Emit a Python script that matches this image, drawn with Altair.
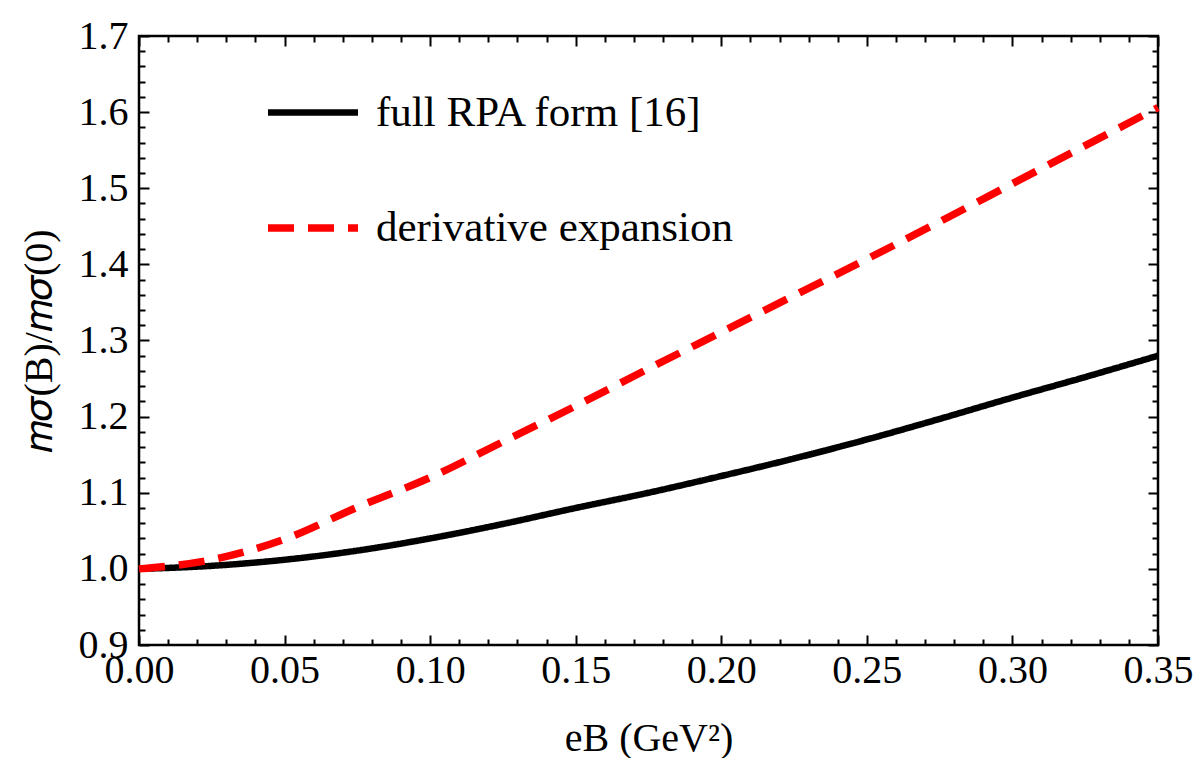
import altair as alt
import pandas as pd

# ---- data ----
eb = [0.0, 0.025, 0.05, 0.075, 0.10, 0.125, 0.15, 0.175, 0.20, 0.225, 0.25, 0.275, 0.30, 0.325, 0.35]
full_rpa = [1.000, 1.004, 1.012, 1.024, 1.040, 1.059, 1.080, 1.100, 1.122, 1.145, 1.170, 1.197, 1.225, 1.252, 1.280]
deriv_exp = [1.000, 1.012, 1.039, 1.081, 1.120, 1.167, 1.214, 1.263, 1.311, 1.359, 1.407, 1.456, 1.506, 1.556, 1.606]
series_names = ["full RPA form [16]", "derivative expansion"]

x_major = [0.0, 0.05, 0.10, 0.15, 0.20, 0.25, 0.30, 0.35]
x_minor = [0.01, 0.02, 0.03, 0.04, 0.06, 0.07, 0.08, 0.09, 0.11, 0.12, 0.13, 0.14,
           0.16, 0.17, 0.18, 0.19, 0.21, 0.22, 0.23, 0.24, 0.26, 0.27, 0.28, 0.29,
           0.31, 0.32, 0.33, 0.34]
y_major = [0.9, 1.0, 1.1, 1.2, 1.3, 1.4, 1.5, 1.6, 1.7]
y_minor = [0.92, 0.94, 0.96, 0.98, 1.02, 1.04, 1.06, 1.08, 1.12, 1.14, 1.16, 1.18,
           1.22, 1.24, 1.26, 1.28, 1.32, 1.34, 1.36, 1.38, 1.42, 1.44, 1.46, 1.48,
           1.52, 1.54, 1.56, 1.58, 1.62, 1.64, 1.66, 1.68]

rows = []
for name, vals in zip(series_names, [full_rpa, deriv_exp]):
    for xv, yv in zip(eb, vals):
        rows.append({"eB": xv, "val": yv, "series": name})
df = pd.DataFrame(rows)

W, H = 1019, 609
FONT = "Liberation Serif"

xs = alt.Scale(domain=[0, 0.35], nice=False, zero=False)
ys = alt.Scale(domain=[0.9, 1.7], nice=False, zero=False)

base = alt.Chart(df)

legend = alt.Legend(
    title=None, orient="none", legendX=125, legendY=28,
    symbolType="stroke", symbolSize=8100, labelFont=FONT, labelFontSize=43,
    labelColor="black", labelOffset=14, rowPadding=44, labelLimit=800,
)

lines = base.mark_line(interpolate="monotone", strokeCap="butt").encode(
    x=alt.X("eB:Q", scale=xs, axis=alt.Axis(
        orient="bottom", values=x_major, format=".2f", ticks=False, tickSize=0,
        domain=False, grid=False, labelFont=FONT, labelFontSize=40, labelColor="black",
        labelPadding=5, labelOverlap=False, labelFlush=False,
        title="eB (GeV²)", titleFont=FONT, titleFontSize=40, titleFontWeight="normal",
        titleColor="black", titleX=509.5, titleY=105, titleBaseline="alphabetic")),
    y=alt.Y("val:Q", scale=ys, axis=alt.Axis(
        orient="left", values=y_major, format=".1f", ticks=False, tickSize=0,
        domain=False, grid=False, labelFont=FONT, labelFontSize=40, labelColor="black",
        labelPadding=11, labelOverlap=False, labelFlush=False,
        title="𝑚𝜎(B)/𝑚𝜎(0)", titleFont=FONT, titleFontSize=40, titleFontWeight="normal",
        titleColor="black", titleX=-100, titleY=304.5, titleBaseline="middle",
        titleAngle=270)),
    color=alt.Color("series:N", scale=alt.Scale(domain=series_names, range=["#000000", "#ff0000"]), legend=legend),
    strokeDash=alt.StrokeDash("series:N", scale=alt.Scale(domain=series_names, range=[[1, 0], [26, 14]]), legend=legend),
    strokeWidth=alt.StrokeWidth("series:N", scale=alt.Scale(domain=series_names, range=[6.5, 7.5]), legend=legend),
)


def tick_layer(xorient, xoff, xvals, xlen, yorient, yoff, yvals, ylen):
    return base.mark_point(opacity=0).encode(
        x=alt.X("eB:Q", scale=xs, title=None, axis=alt.Axis(
            orient=xorient, offset=xoff, values=xvals, labels=False, domain=False,
            grid=False, tickSize=xlen, tickWidth=2, tickColor="black")),
        y=alt.Y("val:Q", scale=ys, title=None, axis=alt.Axis(
            orient=yorient, offset=yoff, values=yvals, labels=False, domain=False,
            grid=False, tickSize=ylen, tickWidth=2, tickColor="black")),
    )


# inward ticks: bottom & left sides
t1 = tick_layer("top", -H, x_major, 10, "right", -W, y_major, 10)
t2 = tick_layer("top", -H, x_minor, 6, "right", -W, y_minor, 6)
# inward ticks: top & right sides
t3 = tick_layer("bottom", -H, x_major, 10, "left", -W, y_major, 10)
t4 = tick_layer("bottom", -H, x_minor, 6, "left", -W, y_minor, 6)

chart = alt.layer(lines, t1, t2, t3, t4).resolve_scale(
    x="independent", y="independent"
).properties(
    width=W, height=H,
    padding={"left": 139, "top": 36, "right": 40, "bottom": 113},
    autosize=alt.AutoSizeParams(type="none"),
).configure_view(stroke="black", strokeWidth=2.5)

chart.save("out.html", embed_options={"renderer": "svg", "actions": False})
